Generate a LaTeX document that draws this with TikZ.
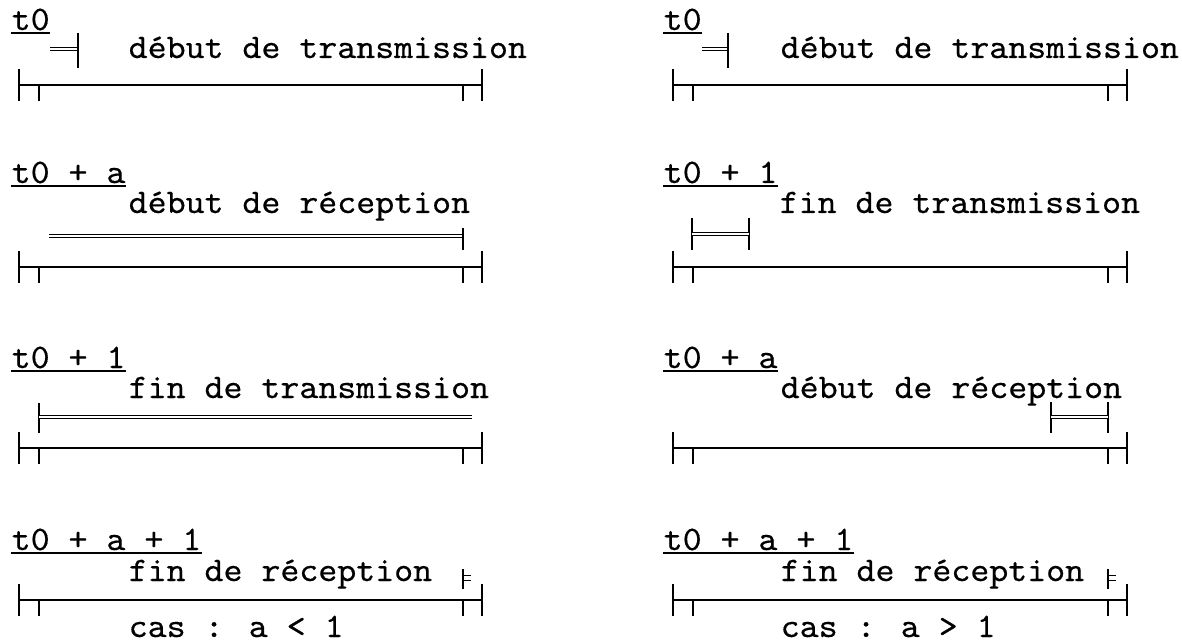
\documentclass[tikz,border=0pt]{standalone}
\usepackage{fontspec}
\newfontfamily\typefont{lmmono10-regular.otf}[FakeStretch=1.05,FakeBold=0.4]
\usetikzlibrary{positioning}

\begin{document}
\begin{tikzpicture}[x=1pt,y=-1pt,line width=1.5pt,
  txt/.style={font=\fontsize{34.4}{38}\selectfont\typefont,inner sep=0pt,anchor=base west},
  dbl/.style={double,line width=1.1pt,double distance=1.6pt}]
\useasboundingbox (0,0) rectangle (1182,644);
% time axes
\foreach \x/\xx in {19/482,673/1127}
  \foreach \y in {85,267,448,600}
    \draw (\x,\y-16) -- (\x,\y+16) (\x,\y) -- (\xx,\y) (\xx,\y-16) -- (\xx,\y+16)
          (\x+20,\y) -- (\x+20,\y+16) (\xx-19,\y) -- (\xx-19,\y+16);
% instants
\node[txt] (t11) at (11,30) {t0};
\node[txt] (t12) at (11,183) {t0 + a};
\node[txt] (t13) at (11,368) {t0 + 1};
\node[txt] (t14) at (11,550) {t0 + a + 1};
\node[txt] (t21) at (663,30) {t0};
\node[txt] (t22) at (663,183) {t0 + 1};
\node[txt] (t23) at (663,368) {t0 + a};
\node[txt] (t24) at (663,550) {t0 + a + 1};
\foreach \n in {t11,t12,t13,t14,t21,t22,t23,t24}
  \draw[line width=1.2pt] ([yshift=-3pt]\n.base west) -- ([yshift=-3pt]\n.base east);
% events, case a < 1
\node[txt] (e11) at (128,58) {début de transmission};
\node[txt] (e12) at (128,213) {début de réception};
\node[txt] (e13) at (128,398) {fin de transmission};
\node[txt] (e14) at (128,581) {fin de réception};
\node[txt] (c1) at (128,637) {cas : a < 1};
\draw[dbl] (50,49) -- (78,49);
\draw (78,33) -- (78,68);
\draw[dbl] (49,236) -- (463,236);
\draw (463,228) -- (463,250);
\draw (39,403) -- (39,433);
\draw[dbl] (39,417) -- (472,417);
\draw (463,569) -- (463,589);
\draw[line width=1pt] (463,575) -- (471,575) (463,580) -- (471,580);
% events, case a > 1
\node[txt] (e21) at (780,58) {début de transmission};
\node[txt] (e22) at (779,213) {fin de transmission};
\node[txt] (e23) at (780,398) {début de réception};
\node[txt] (e24) at (780,581) {fin de réception};
\node[txt] (c2) at (780,637) {cas : a > 1};
\draw[dbl] (702,49) -- (728,49);
\draw (728,33) -- (728,68);
\draw (692,218) -- (692,250) (749,218) -- (749,250);
\draw[dbl] (692,234) -- (749,234);
\draw (1051,402) -- (1051,433) (1108,402) -- (1108,433);
\draw[dbl] (1051,417) -- (1108,417);
\draw (1108,569) -- (1108,589);
\draw[line width=1pt] (1108,575) -- (1116,575) (1108,580) -- (1116,580);
\end{tikzpicture}
\end{document}
